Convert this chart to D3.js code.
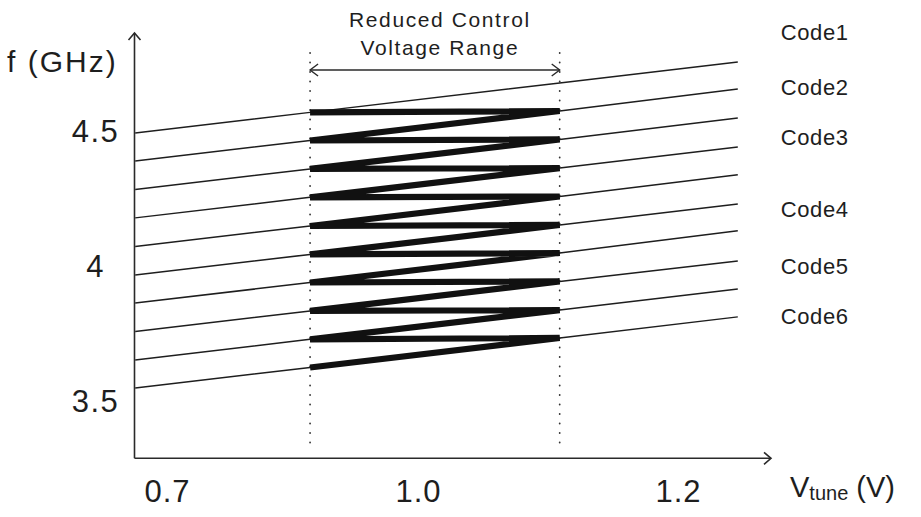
<!DOCTYPE html>
<html>
<head>
<meta charset="utf-8">
<script src="https://cdn.jsdelivr.net/npm/d3@7"></script>
<style>
  html, body { margin: 0; padding: 0; background: #fff; }
  svg { display: block; }
  text { font-family: "Liberation Sans", Arial, sans-serif; fill: #1e1e1e; }
</style>
</head>
<body>
<svg id="chart" width="921" height="517"></svg>
<script>
// Tuning voltage (V) and oscillation frequency (GHz)
const xTicks = [0.7, 1.0, 1.2];
const yTicks = [3.5, 4, 4.5];

// Extent of each tuning curve and the reduced control range
const vStart = 0.662;
const vEnd = 1.246;
const vRange = [0.871, 1.109];

// Frequency of each curve at vStart, vRange[0], vRange[1], vEnd
const fStart = [4.491, 4.387, 4.282, 4.177, 4.071, 3.966, 3.862, 3.757, 3.652, 3.548];
const fLow   = [4.567, 4.463, 4.358, 4.253, 4.147, 4.042, 3.938, 3.833, 3.728, 3.624];
const fHigh  = [4.676, 4.572, 4.467, 4.361, 4.256, 4.151, 4.047, 3.942, 3.836, 3.733];
const fEnd   = [4.753, 4.653, 4.546, 4.439, 4.336, 4.228, 4.129, 4.018, 3.914, 3.811];

// Band code annotations and the frequency level each is written at
const codeNames  = ["Code1", "Code2", "Code3", "Code4", "Code5", "Code6"];
const codeLevels = [4.864, 4.661, 4.474, 4.210, 3.999, 3.814];

const svg = d3.select("#chart");
const ink = "#1e1e1e";

// Schematic (piecewise) voltage axis, linear frequency axis
const x = d3.scaleLinear().domain(xTicks).range([167, 418, 678]);
const y = d3.scaleLinear().domain([3.5, 4.5]).range([401, 130.5]);

const originX = 134.5, originY = 458.3;
const xAxisEnd = 771, yAxisTop = 33;

// Axis lines with open arrowheads
const axes = svg.append("g").attr("stroke", "#2a2a2a").attr("stroke-width", 1.6).attr("fill", "none");
axes.append("path").attr("d", `M${originX},${originY}H${xAxisEnd}`);
axes.append("path").attr("d", `M${xAxisEnd - 7},${originY - 6}L${xAxisEnd},${originY}L${xAxisEnd - 7},${originY + 6}`);
axes.append("path").attr("d", `M${originX},${originY}V${yAxisTop}`);
axes.append("path").attr("d", `M${originX - 6},${yAxisTop + 7}L${originX},${yAxisTop}L${originX + 6},${yAxisTop + 7}`);

// Tick labels through d3 axes (no tick marks)
const xAxis = svg.append("g")
  .attr("transform", `translate(0,${originY})`)
  .call(d3.axisBottom(x).tickValues(xTicks).tickSize(0).tickFormat(d3.format(".1f")));
xAxis.select(".domain").remove();
xAxis.selectAll("text")
  .attr("y", 33).attr("dy", "0.35em")
  .style("font-size", "31px").style("letter-spacing", "1px")
  .attr("fill", ink).attr("font-family", null);

const yAxis = svg.append("g")
  .attr("transform", `translate(${originX},0)`)
  .call(d3.axisLeft(y).tickValues(yTicks).tickSize(0).tickFormat(d => String(d)));
yAxis.select(".domain").remove();
yAxis.selectAll("text")
  .attr("x", -39).attr("dy", "0.35em")
  .attr("text-anchor", "middle")
  .style("font-size", "31px").style("letter-spacing", "1.5px")
  .attr("fill", ink).attr("font-family", null);

// Axis titles
svg.append("text")
  .attr("x", 7).attr("y", 72)
  .style("font-size", "30px").style("letter-spacing", "2px")
  .text("f (GHz)");

const vt = svg.append("text").attr("x", 790).attr("y", 497).style("font-size", "29px");
vt.append("tspan").text("V");
vt.append("tspan").attr("dy", 3).style("font-size", "20px").text("tune");
vt.append("tspan").attr("dy", -3).text(" (V)");

// Dotted bounds of the reduced control range
svg.append("g").selectAll("line").data(vRange).join("line")
  .attr("x1", d => x(d)).attr("x2", d => x(d))
  .attr("y1", 53).attr("y2", 451)
  .attr("stroke", "#333").attr("stroke-width", 1.8)
  .attr("stroke-linecap", "round")
  .attr("stroke-dasharray", "0.1,9.4");

// Double-headed span arrow and its caption
const ay = 70;
const a0 = x(vRange[0]), a1 = x(vRange[1]);
const span = svg.append("g").attr("stroke", "#2a2a2a").attr("stroke-width", 1.4).attr("fill", "none");
span.append("path").attr("d", `M${a0},${ay}H${a1}`);
span.append("path").attr("d", `M${a0 + 8},${ay - 6}L${a0},${ay}L${a0 + 8},${ay + 6}`);
span.append("path").attr("d", `M${a1 - 8},${ay - 6}L${a1},${ay}L${a1 - 8},${ay + 6}`);

const capX = (a0 + a1) / 2 + 5;
svg.append("text").attr("x", capX).attr("y", 27).attr("text-anchor", "middle")
  .style("font-size", "21px").style("letter-spacing", "1.6px").attr("fill", "#2a2a2a")
  .text("Reduced Control");
svg.append("text").attr("x", capX).attr("y", 55).attr("text-anchor", "middle")
  .style("font-size", "21px").style("letter-spacing", "1.6px").attr("fill", "#2a2a2a")
  .text("Voltage Range");

// Thin tuning curves
const curves = fStart.map((f, i) => [
  [vStart, f], [vRange[0], fLow[i]], [vRange[1], fHigh[i]], [vEnd, fEnd[i]]
]);
const line = d3.line().x(d => x(d[0])).y(d => y(d[1]));
svg.append("g").selectAll("path").data(curves).join("path")
  .attr("d", line)
  .attr("fill", "none").attr("stroke", ink).attr("stroke-width", 1.5);

// Bold calibration path: climb each curve across the range, then step to the next curve
const zig = [];
for (let i = fLow.length - 1; i >= 1; i--) {
  zig.push([vRange[0], fLow[i]]);
  zig.push([vRange[1], fHigh[i]]);
}
zig.push([vRange[0], fLow[0]]);
svg.append("path")
  .attr("d", line(zig))
  .attr("fill", "none").attr("stroke", "#111").attr("stroke-width", 6.2)
  .attr("stroke-linejoin", "miter");

// Code annotations
svg.append("g").selectAll("text").data(codeNames).join("text")
  .attr("x", x(vEnd) + 43)
  .attr("y", (d, i) => y(codeLevels[i]))
  .attr("dy", "0.35em")
  .style("font-size", "22px").style("letter-spacing", "0.6px").attr("fill", "#2a2a2a")
  .text(d => d);
</script>
</body>
</html>
